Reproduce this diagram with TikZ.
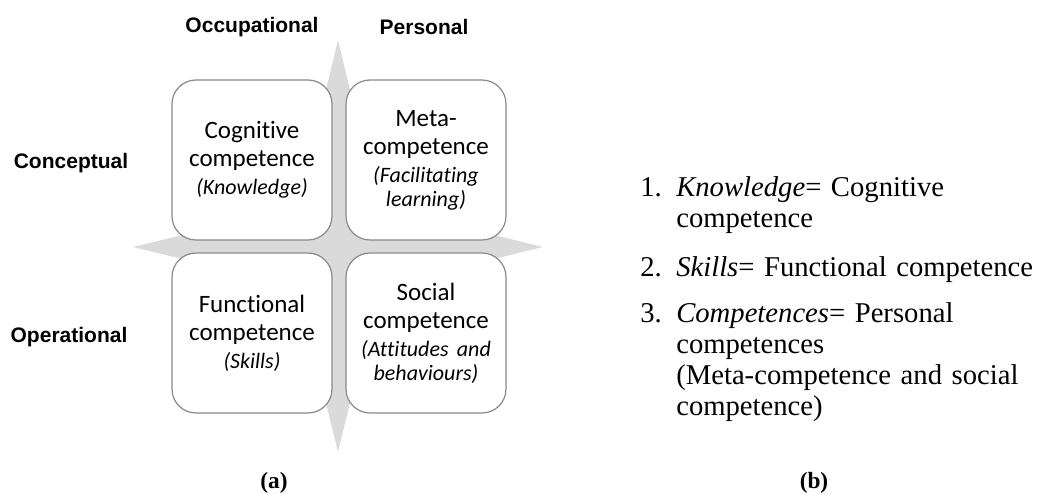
\documentclass[tikz,border=0pt]{standalone}
\usepackage{fontspec}
\usepackage{tikz}
\setmainfont{Liberation Serif}
\newfontfamily\boxfont[Ligatures=NoCommon]{Carlito}
\newfontfamily\headfont{Liberation Sans}
\definecolor{crossgray}{HTML}{DADADA}
\definecolor{edgegray}{HTML}{8A8A8A}
\newcommand\subtxt[1]{{\fontsize{16.5}{18}\selectfont\itshape #1}}

\begin{document}
\begin{tikzpicture}[x=0.75pt,y=-0.75pt,
  quad/.style={draw=edgegray, line width=0.9pt, fill=white, rounded corners=18pt,
    minimum width=120pt, minimum height=120pt, text width=116pt, align=center,
    inner sep=0pt, font=\boxfont\fontsize{18.75}{21}\selectfont},
  head/.style={font=\headfont\bfseries\fontsize{15.75}{18}\selectfont, inner sep=0pt},
  item/.style={anchor=base west, inner sep=0pt, text width=280pt, align=left,
    font=\fontsize{21.5}{23.25}\selectfont},
  sublabel/.style={font=\bfseries\fontsize{17.5}{20}\selectfont, inner sep=0pt}]
\useasboundingbox (0,0) rectangle (1039,495);
% Cruz
\coordinate (c) at (338,247);
\fill[crossgray] (338,40) -- (388,247) -- (338,452) -- (288,247) -- cycle;
\fill[crossgray] (133,247) -- (338,197) -- (543,247) -- (338,297) -- cycle;
% Quadrantes
\node[quad] (cog) at (252,160) {Cognitive\\competence\\\subtxt{(Knowledge)}};
\node[quad] (meta) at (426,160) {Meta-\\competence\\\subtxt{(Facilitating}\\[-3pt]\subtxt{learning)}};
\node[quad] (func) at (252,333) {Functional\\competence\\\subtxt{(Skills)}};
\node[quad] (soc) at (426,333) {Social\\competence\\\subtxt{(Attitudes and}\\[-3pt]\subtxt{behaviours)}};
% Eixos
\node[head] (occ) at (252,27) {Occupational};
\node[head] (pers) at (424,27) {Personal};
\node[head] (conc) at (71,163) {Conceptual};
\node[head] (oper) at (69,337) {Operational};
% Lista
\node[item, text width=30pt] (n1) at (640,197) {1.};
\node[item] (t1) at (676,197) {\textit{Knowledge}= Cognitive\\competence};
\node[item, text width=30pt] (n2) at (640,277) {2.};
\node[item] (t2) at (676,277) {\textit{Skills}= Functional competence};
\node[item, text width=30pt] (n3) at (640,323) {3.};
\node[item] (t3) at (676,323) {\textit{Competences}= Personal\\competences\\(Meta-competence and social\\competence)};
% Legendas
\node[sublabel] (lba) at (274,483) {(a)};
\node[sublabel] (lbb) at (814,483) {(b)};
\end{tikzpicture}
\end{document}
